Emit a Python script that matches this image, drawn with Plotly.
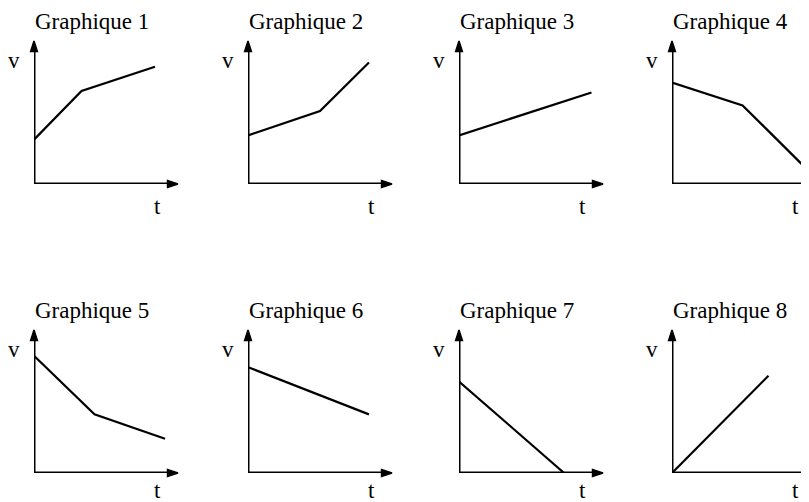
import plotly.graph_objects as go

# v(t) sketches, arbitrary units (axes run 0..10)
titles = ["Graphique 1", "Graphique 2", "Graphique 3", "Graphique 4",
          "Graphique 5", "Graphique 6", "Graphique 7", "Graphique 8"]

t1 = [0, 3.3, 8.4]
v1 = [3.1, 6.5, 8.2]
t2 = [0, 5.0, 8.4]
v2 = [3.4, 5.1, 8.5]
t3 = [0, 9.2]
v3 = [3.4, 6.4]
t4 = [0, 4.9, 9.1]
v4 = [7.1, 5.5, 1.3]
t5 = [0, 4.2, 9.1]
v5 = [8.2, 4.1, 2.4]
t6 = [0, 8.4]
v6 = [7.4, 4.1]
t7 = [0, 7.3]
v7 = [6.4, 0]
t8 = [0, 6.7]
v8 = [0, 6.8]

series = [(t1, v1), (t2, v2), (t3, v3), (t4, v4),
          (t5, v5), (t6, v6), (t7, v7), (t8, v8)]

OFF = 8                        # default body margin of the html page
W, H = 809 - OFF, 502 - OFF
col_x0 = [34, 248, 459, 672]   # page x of each v axis
row_y0 = [184, 473]            # page y of each t axis
px_x, px_y = 14.4, 14.3        # pixels per unit
FONT = "Liberation Serif, Times New Roman, serif"

fig = go.Figure()
layout = dict(width=W, height=H, autosize=False,
              margin=dict(l=0, r=0, t=0, b=0),
              paper_bgcolor="white", plot_bgcolor="white",
              showlegend=False, annotations=[])

for i, (tt, vv) in enumerate(series):
    r, c = divmod(i, 4)
    n = "" if i == 0 else str(i + 1)
    x0 = col_x0[c] - OFF
    x1 = min(W, x0 + 10 * px_x)
    y0 = row_y0[r] - OFF
    y1 = y0 - 10 * px_y
    xr = (x1 - x0) / px_x
    layout["xaxis" + n] = dict(domain=[x0 / W, x1 / W], range=[0, xr],
                               visible=False, fixedrange=True)
    layout["yaxis" + n] = dict(domain=[1 - y0 / H, 1 - y1 / H], range=[0, 10],
                               visible=False, fixedrange=True)
    xa, ya = "x" + n, "y" + n

    # axes with arrow heads
    fig.add_trace(go.Scatter(x=[9.5, 0, 0], y=[0, 0, 9.5], xaxis=xa, yaxis=ya,
                             mode="lines", line=dict(color="black", width=3),
                             cliponaxis=False, hoverinfo="skip"))
    fig.add_trace(go.Scatter(x=[10, 0], y=[0, 10], xaxis=xa, yaxis=ya,
                             mode="markers", cliponaxis=False, hoverinfo="skip",
                             marker=dict(symbol="arrow", size=11, angle=[90, 0],
                                         color="black",
                                         line=dict(color="black", width=1.5))))
    # the curve
    fig.add_trace(go.Scatter(x=tt, y=vv, xaxis=xa, yaxis=ya, mode="lines",
                             line=dict(color="black", width=2.2),
                             cliponaxis=False, hoverinfo="skip"))

    layout["annotations"] += [
        dict(text=titles[i], xref=xa, yref=ya, x=0, y=10, xanchor="left",
             yanchor="middle", xshift=-1, yshift=20, showarrow=False,
             font=dict(family=FONT, size=23, color="black")),
        dict(text="v", xref=xa, yref=ya, x=0, y=10, xanchor="center",
             yanchor="middle", xshift=-20, yshift=-19, showarrow=False,
             font=dict(family=FONT, size=23, color="black")),
        dict(text="t", xref=xa, yref=ya, x=0, y=0, xanchor="center",
             yanchor="middle", xshift=123, yshift=-22 if r == 0 else -17,
             showarrow=False,
             font=dict(family=FONT, size=23, color="black")),
    ]

fig.update_layout(**layout)
fig.write_html("out.html")
